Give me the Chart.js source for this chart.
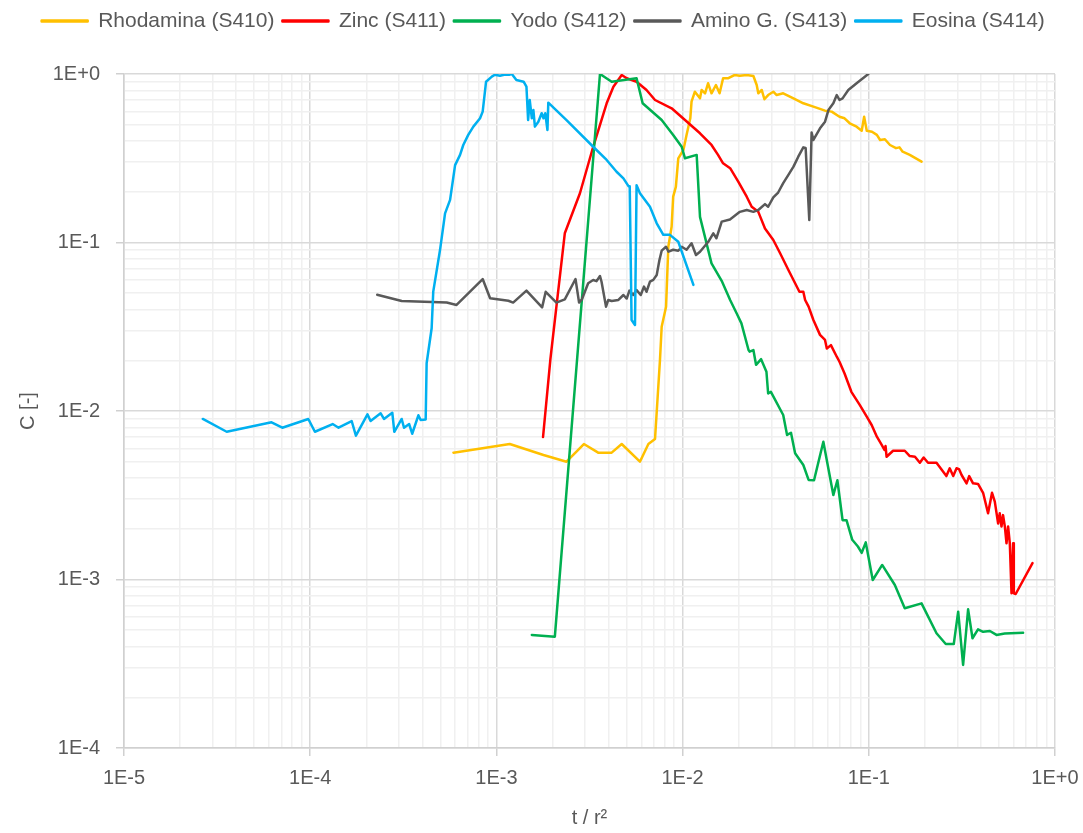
<!DOCTYPE html>
<html>
<head>
<meta charset="utf-8">
<title>C vs t / r2</title>
<script src="https://cdn.jsdelivr.net/npm/chart.js@4.4.1/dist/chart.umd.min.js"></script>
<style>
  body { margin: 0; background: #fff; }
  canvas { display: block; }
</style>
</head>
<body>
<canvas id="chart" width="1083" height="833"></canvas>
<script>
const seriesNames = ["Rhodamina (S410)", "Zinc (S411)", "Yodo (S412)", "Amino G. (S413)", "Eosina (S414)"];
const seriesColors = ["#FFC000", "#FF0000", "#00B050", "#595959", "#00B0F0"];

const xTickValues = [1e-5, 1e-4, 1e-3, 1e-2, 1e-1, 1];
const xTickLabels = ["1E-5", "1E-4", "1E-3", "1E-2", "1E-1", "1E+0"];
const yTickValues = [1e-4, 1e-3, 1e-2, 1e-1, 1];
const yTickLabels = ["1E-4", "1E-3", "1E-2", "1E-1", "1E+0"];

// Rhodamina (S410)
const rhodaminaT = [5.88e-4, 1.18e-3, 1.79e-3, 2.38e-3, 2.95e-3, 3.52e-3, 4.16e-3, 4.71e-3, 5.9e-3, 6.55e-3,
  7.11e-3, 7.56e-3, 7.72e-3, 8.15e-3, 8.38e-3, 8.73e-3, 8.9e-3, 9.2e-3, 9.48e-3, 0.0101,
  0.0105, 0.011, 0.01117, 0.01164, 0.0124, 0.01265, 0.0132, 0.0137, 0.0143, 0.0151,
  0.0158, 0.0165, 0.0175, 0.019, 0.0203, 0.0221, 0.024, 0.025, 0.0255, 0.0266,
  0.0275, 0.0288, 0.0307, 0.032, 0.0347, 0.0394, 0.0445, 0.0504, 0.0582, 0.0632,
  0.0696, 0.0741, 0.079, 0.086, 0.0916, 0.0944, 0.0975, 0.104, 0.1105, 0.115,
  0.122, 0.13, 0.14, 0.146, 0.152, 0.166, 0.192];
const rhodaminaC = [0.00566, 0.00637, 0.00548, 0.0050, 0.00637, 0.00566, 0.00566, 0.00637, 0.0050, 0.00637,
  0.00682, 0.0201, 0.0316, 0.0416, 0.0944, 0.124, 0.187, 0.214, 0.316, 0.354,
  0.435, 0.546, 0.685, 0.785, 0.717, 0.804, 0.768, 0.881, 0.768, 0.86,
  0.768, 0.943, 0.943, 0.986, 0.977, 0.986, 0.973, 0.86, 0.768, 0.804,
  0.708, 0.75, 0.785, 0.75, 0.768, 0.717, 0.67, 0.64, 0.606, 0.598,
  0.558, 0.546, 0.51, 0.487, 0.461, 0.558, 0.461, 0.454, 0.435, 0.406,
  0.41, 0.379, 0.363, 0.367, 0.346, 0.331, 0.302];

// Zinc (S411)
const zincT = [1.78e-3, 1.95e-3, 2.33e-3, 2.81e-3, 3.31e-3, 3.91e-3, 4.25e-3, 4.71e-3, 5.01e-3, 5.66e-3,
  6.4e-3, 7.11e-3, 8.73e-3, 0.0103, 0.0124, 0.0143, 0.0155, 0.0165, 0.018, 0.0199,
  0.0221, 0.0235, 0.0255, 0.0277, 0.0307, 0.0334, 0.037, 0.0402, 0.0424, 0.0445,
  0.0455, 0.0475, 0.0504, 0.0547, 0.0582, 0.0595, 0.0626, 0.0673, 0.0696, 0.0741,
  0.0806, 0.0892, 0.0975, 0.1036, 0.1105, 0.1175, 0.1214, 0.123, 0.1246, 0.135,
  0.156, 0.166, 0.177, 0.188, 0.197, 0.208, 0.231, 0.243, 0.261, 0.272,
  0.284, 0.296, 0.305, 0.315, 0.335, 0.346, 0.363, 0.386, 0.411, 0.437,
  0.459, 0.475, 0.495, 0.505, 0.516, 0.526, 0.538, 0.549, 0.56, 0.572,
  0.584, 0.596, 0.601, 0.615, 0.757];
const zincC = [0.007, 0.0203, 0.1134, 0.196, 0.37, 0.67, 0.841, 0.986, 0.943, 0.9,
  0.804, 0.701, 0.626, 0.533, 0.445, 0.379, 0.331, 0.295, 0.276, 0.23,
  0.187, 0.163, 0.152, 0.121, 0.1035, 0.0863, 0.0687, 0.0573, 0.051, 0.051,
  0.0456, 0.0416, 0.0347, 0.0283, 0.0264, 0.0235, 0.0246, 0.021, 0.0196, 0.0167,
  0.013, 0.0109, 0.00925, 0.00826, 0.00704, 0.00628, 0.00587, 0.0062, 0.00535, 0.00581,
  0.00581, 0.0054, 0.00535, 0.00493, 0.0053, 0.00493, 0.00493, 0.00457, 0.00411, 0.00457,
  0.00411, 0.00457, 0.00452, 0.00417, 0.00372, 0.00411, 0.00372, 0.00369, 0.00327, 0.00247,
  0.00327, 0.0029, 0.00215, 0.00247, 0.00206, 0.00241, 0.00206, 0.00164, 0.00206, 0.00164,
  0.000828, 0.00164, 0.000828, 0.00082, 0.00125];

// Yodo (S412)
const yodoT = [1.55e-3, 2.06e-3, 3.6e-3, 4.16e-3, 5.66e-3, 6.1e-3, 7.72e-3, 8.9e-3, 9.89e-3, 0.0103,
  0.0119, 0.0124, 0.0143, 0.0163, 0.018, 0.0195, 0.0207, 0.0226, 0.0229, 0.024,
  0.0248, 0.0264, 0.0282, 0.0288, 0.0298, 0.0347, 0.0364, 0.0382, 0.0402, 0.0445,
  0.0475, 0.0508, 0.057, 0.0645, 0.0678, 0.0723, 0.0759, 0.0815, 0.0874, 0.0916,
  0.0963, 0.105, 0.118, 0.138, 0.156, 0.192, 0.231, 0.259, 0.286, 0.302,
  0.321, 0.3415, 0.3605, 0.386, 0.411, 0.447, 0.485, 0.537, 0.674];
const yodoC = [0.000469, 0.000458, 1.0, 0.9, 0.943, 0.67, 0.533, 0.435, 0.37, 0.316,
  0.331, 0.142, 0.0752, 0.0585, 0.0456, 0.038, 0.0331, 0.023, 0.0225, 0.023,
  0.0188, 0.0203, 0.0171, 0.0127, 0.013, 0.00947, 0.00721, 0.00743, 0.00561, 0.00478,
  0.0039, 0.00388, 0.00657, 0.00317, 0.00388, 0.00225, 0.00225, 0.00172, 0.00157, 0.00144,
  0.00166, 0.000993, 0.00122, 0.000928, 0.000675, 0.000722, 0.00048, 0.000414, 0.000414, 0.000644,
  0.000311, 0.000665, 0.000448, 0.000506, 0.000489, 0.000495, 0.000469, 0.000478, 0.000483];

// Amino G. (S413)
const aminoT = [2.29e-4, 3.1e-4, 5.41e-4, 6.11e-4, 8.44e-4, 9.25e-4, 1.16e-3, 1.23e-3, 1.45e-3, 1.76e-3,
  1.84e-3, 2.1e-3, 2.33e-3, 2.66e-3, 2.78e-3, 2.88e-3, 3.11e-3, 3.31e-3, 3.45e-3, 3.6e-3,
  3.67e-3, 3.88e-3, 3.99e-3, 4.16e-3, 4.52e-3, 4.81e-3, 5.01e-3, 5.18e-3, 5.43e-3, 5.66e-3,
  5.96e-3, 6.2e-3, 6.4e-3, 6.68e-3, 6.96e-3, 7.26e-3, 7.51e-3, 7.72e-3, 8.15e-3, 8.4e-3,
  8.9e-3, 9.48e-3, 9.89e-3, 0.0105, 0.01117, 0.0118, 0.0124, 0.01374, 0.01462, 0.0152,
  0.01622, 0.01796, 0.0203, 0.0221, 0.024, 0.0255, 0.0277, 0.0288, 0.0307, 0.0326,
  0.0347, 0.037, 0.0394, 0.0418, 0.0445, 0.0458, 0.0479, 0.0493, 0.0504, 0.0547,
  0.0582, 0.0607, 0.0645, 0.0673, 0.0696, 0.0723, 0.0776, 0.086, 0.0994];
const aminoC = [0.049, 0.045, 0.044, 0.0426, 0.0607, 0.0467, 0.0451, 0.044, 0.0518, 0.0412,
  0.051, 0.044, 0.046, 0.0607, 0.044, 0.046, 0.0573, 0.0599, 0.059, 0.0633,
  0.0585, 0.0416, 0.0456, 0.045, 0.0456, 0.0488, 0.0465, 0.0518, 0.0488, 0.0522,
  0.0488, 0.0547, 0.051, 0.0586, 0.06, 0.0641, 0.0787, 0.0894, 0.0944, 0.0882,
  0.0906, 0.0894, 0.0944, 0.0906, 0.0989, 0.0843, 0.0882, 0.101, 0.1134, 0.106,
  0.133, 0.137, 0.152, 0.156, 0.152, 0.156, 0.169, 0.163, 0.185, 0.198,
  0.225, 0.252, 0.282, 0.323, 0.367, 0.364, 0.136, 0.449, 0.406, 0.476,
  0.521, 0.611, 0.67, 0.75, 0.701, 0.717, 0.804, 0.881, 1.0];

// Eosina (S414)
const eosinaT = [2.65e-5, 3.56e-5, 6.2e-5, 7.08e-5, 9.77e-5, 1.06e-4, 1.32e-4, 1.42e-4, 1.67e-4, 1.76e-4,
  2.03e-4, 2.11e-4, 2.39e-4, 2.49e-4, 2.76e-4, 2.83e-4, 3.1e-4, 3.19e-4, 3.4e-4, 3.53e-4,
  3.81e-4, 3.92e-4, 4.17e-4, 4.22e-4, 4.49e-4, 4.58e-4, 4.98e-4, 5.3e-4, 5.64e-4, 6.0e-4,
  6.38e-4, 6.64e-4, 7.06e-4, 7.52e-4, 8.17e-4, 8.44e-4, 8.8e-4, 9.45e-4, 9.82e-4, 1.045e-3,
  1.1e-3, 1.17e-3, 1.21e-3, 1.28e-3, 1.4e-3, 1.45e-3, 1.48e-3, 1.51e-3, 1.55e-3, 1.58e-3,
  1.61e-3, 1.68e-3, 1.75e-3, 1.79e-3, 1.83e-3, 1.88e-3, 1.9e-3, 2.38e-3, 3.31e-3, 3.91e-3,
  4.42e-3, 4.81e-3, 5.12e-3, 5.2e-3, 5.32e-3, 5.55e-3, 5.66e-3, 5.9e-3, 6.68e-3, 7.26e-3,
  7.88e-3, 8.55e-3, 9.48e-3, 0.01143];
const eosinaC = [0.00897, 0.00753, 0.00857, 0.00796, 0.00897, 0.00753, 0.00837, 0.00796, 0.00872, 0.00714,
  0.00955, 0.00872, 0.00969, 0.00897, 0.00977, 0.00753, 0.00897, 0.00796, 0.00837, 0.00733,
  0.00943, 0.00885, 0.0089, 0.0192, 0.031, 0.0511, 0.0902, 0.149, 0.179, 0.288,
  0.331, 0.379, 0.435, 0.487, 0.546, 0.598, 0.9, 0.964, 0.99, 0.977,
  0.99, 0.99, 1.0, 0.921, 0.9, 0.841, 0.533, 0.701, 0.546, 0.611,
  0.487, 0.521, 0.585, 0.546, 0.585, 0.465, 0.676, 0.533, 0.37, 0.309,
  0.263, 0.24, 0.216, 0.216, 0.0347, 0.0324, 0.219, 0.196, 0.163, 0.13,
  0.111, 0.111, 0.101, 0.056];

const seriesT = [rhodaminaT, zincT, yodoT, aminoT, eosinaT];
const seriesC = [rhodaminaC, zincC, yodoC, aminoC, eosinaC];

const FONT = "'Liberation Sans', Arial, sans-serif";
const TEXT = "#595959";

function isDecade(v) {
  const e = Math.log10(v);
  return Math.abs(e - Math.round(e)) < 1e-6;
}

function isWholeMantissa(v) {
  const m = v / Math.pow(10, Math.floor(Math.log10(v) + 1e-9));
  return Math.abs(m - Math.round(m)) < 1e-6;
}

function labelFor(value, values, labels) {
  const k = values.findIndex((d) => Math.abs(value / d - 1) < 1e-6);
  return k >= 0 ? labels[k] : "";
}

// extra space under the legend, like the gap above the plot in the original
const legendGap = {
  id: "legendGap",
  beforeLayout(chart) {
    const legend = chart.legend;
    if (!legend || legend._gapPatched) return;
    const fit = legend.fit;
    legend.fit = function () {
      fit.call(this);
      this.height += 32.5;
    };
    legend._gapPatched = true;
  },
};

function logAxis(min, max, values, labels, title) {
  return {
    type: "logarithmic",
    min: min,
    max: max,
    afterBuildTicks: (scale) => {
      scale.ticks = scale.ticks.filter((t) => isWholeMantissa(t.value));
    },
    ticks: {
      autoSkip: false,
      maxRotation: 0,
      minRotation: 0,
      color: TEXT,
      font: { family: FONT, size: 20 },
      callback: (value) => labelFor(value, values, labels),
    },
    grid: {
      color: (ctx) => (ctx.tick && isDecade(ctx.tick.value) ? "#d9d9d9" : "#f0f0f0"),
      tickColor: (ctx) => (ctx.tick && isDecade(ctx.tick.value) ? "#d0d0d0" : "rgba(0,0,0,0)"),
      lineWidth: 1.5,
      tickLength: 8,
    },
    border: { color: "#d0d0d0", width: 1.5 },
    title: {
      display: true,
      text: title,
      color: TEXT,
      font: { family: FONT, size: 20 },
    },
  };
}

const xAxis = logAxis(1e-5, 1, xTickValues, xTickLabels, "t / r²");
xAxis.afterFit = (scale) => {
  scale.height = 85;
  scale.paddingRight = 28;
};
xAxis.ticks.padding = 10;
xAxis.title.padding = { top: 0, bottom: 3 };

const yAxis = logAxis(1e-4, 1, yTickValues, yTickLabels, "C [-]");
yAxis.afterFit = (scale) => { scale.width = 92.5; };
yAxis.ticks.padding = 16;
yAxis.title.padding = { top: -15.5, bottom: 0 };

new Chart(document.getElementById("chart").getContext("2d"), {
  type: "scatter",
  data: {
    datasets: seriesNames.map((name, i) => ({
      label: name,
      data: seriesT[i].map((t, j) => ({ x: t, y: seriesC[i][j] })),
      showLine: true,
      borderColor: seriesColors[i],
      backgroundColor: seriesColors[i],
      borderWidth: 2.5,
      borderJoinStyle: "round",
      borderCapStyle: "round",
      pointRadius: 0,
      pointHoverRadius: 0,
      tension: 0,
      order: seriesNames.length - i,
    })),
  },
  options: {
    responsive: false,
    animation: false,
    events: [],
    layout: { padding: { left: 31.5, right: 28, top: 2.5, bottom: 0 } },
    plugins: {
      legend: {
        position: "top",
        labels: {
          boxWidth: 46,
          boxHeight: 1,
          padding: 8,
          color: TEXT,
          font: { family: FONT, size: 21 },
          sort: (a, b) => a.datasetIndex - b.datasetIndex,
        },
      },
      tooltip: { enabled: false },
    },
    scales: { x: xAxis, y: yAxis },
  },
  plugins: [legendGap],
});
</script>
</body>
</html>
